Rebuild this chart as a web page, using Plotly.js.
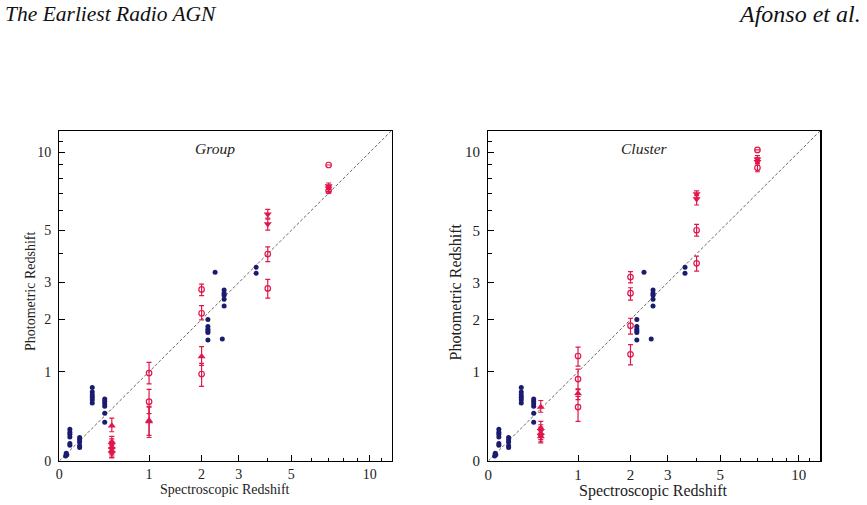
<!DOCTYPE html>
<html>
<head>
<meta charset="utf-8">
<script src="https://cdn.plot.ly/plotly-3.0.1.min.js"></script>
<style>html,body{margin:0;padding:0;background:#fff;}#chart{width:867px;height:505px;}</style>
</head>
<body>
<div id="chart"></div>
<script>
// ---- Data (redshift values) ----
var tickVals = [0, 1, 2, 3, 5, 10];
var tickText = ['0', '1', '2', '3', '5', '10'];
var minorVals = [4, 6, 7, 8, 9, 11];
var oneToOne = [0, 12];

// blue: spectroscopic sample (identical in both panels)
var blueSpec = [0.05, 0.055, 0.06,
  0.085, 0.085, 0.085, 0.085, 0.085, 0.085,
  0.17, 0.17, 0.17, 0.17, 0.17,
  0.29, 0.29, 0.29, 0.29, 0.29, 0.29,
  0.42, 0.42, 0.42, 0.42, 0.42, 0.42,
  2.15, 2.15, 2.15, 2.15, 2.15, 2.15,
  2.33, 2.52,
  2.57, 2.57, 2.57, 2.57, 2.57,
  3.57, 3.57];
var bluePhot = [0.04, 0.062, 0.05,
  0.28, 0.25, 0.23, 0.205, 0.145, 0.13,
  0.2, 0.18, 0.16, 0.125, 0.11,
  0.77, 0.71, 0.67, 0.64, 0.61, 0.57,
  0.62, 0.59, 0.56, 0.53, 0.45, 0.35,
  2.0, 1.84, 1.78, 1.745, 1.71, 1.56,
  3.33, 1.58,
  2.77, 2.68, 2.62, 2.51, 2.33,
  3.5, 3.3];

// Group panel (red)
var gCircSpec = [1, 1, 2, 2, 2, 4, 4, 7, 7];
var gCircPhot = [0.98, 0.585, 2.15, 2.79, 0.965, 3.99, 2.82, 7.15, 8.96];
var gCircUp   = [0.17, 0.16, 0.19, 0.16, 0.17, 0.28, 0.28, 0.15, 0];
var gCircDn   = [0.16, 0.14, 0.16, 0.18, 0.18, 0.29, 0.28, 0.15, 0];

var gUpSpec = [0.5, 0.5, 0.5, 0.5, 1, 1, 2];
var gUpPhot = [0.315, 0.16, 0.115, 0.08, 0.36, 0.37, 1.25];
var gUpUp   = [0.08, 0.05, 0.05, 0.05, 0.17, 0.15, 0.18];
var gUpDn   = [0.06, 0.05, 0.05, 0.05, 0.16, 0.15, 0.15];

var gDnSpec = [0.5, 0.5, 0.5, 4, 4, 7, 7];
var gDnPhot = [0.137, 0.098, 0.064, 5.79, 5.30, 7.46, 7.31];
var gDnUp   = [0.05, 0.05, 0.04, 0.27, 0.24, 0.2, 0.2];
var gDnDn   = [0.05, 0.05, 0.04, 0.2, 0.29, 0.2, 0.2];

// Cluster panel (red)
var cCircSpec = [1, 1, 1, 2, 2, 2, 2, 4, 4, 7, 7];
var cCircPhot = [1.26, 0.89, 0.52, 3.17, 2.68, 1.86, 1.29, 5.0, 3.64, 10.2, 8.75];
var cCircUp   = [0.16, 0.15, 0.13, 0.18, 0.16, 0.17, 0.18, 0.28, 0.27, 0, 0.3];
var cCircDn   = [0.17, 0.15, 0.16, 0.18, 0.19, 0.18, 0.18, 0.27, 0.27, 0, 0.3];

var cUpSpec = [0.5, 0.5, 0.5, 0.5, 1];
var cUpPhot = [0.52, 0.29, 0.24, 0.21, 0.69];
var cUpUp   = [0.08, 0.07, 0.06, 0.06, 0.06];
var cUpDn   = [0.06, 0.06, 0.06, 0.06, 0.08];

var cDnSpec = [0.5, 0.5, 4, 4, 7, 7];
var cDnPhot = [0.265, 0.22, 6.95, 6.65, 9.41, 9.22];
var cDnUp   = [0.06, 0.06, 0.2, 0.2, 0.3, 0.3];
var cDnDn   = [0.06, 0.06, 0.25, 0.35, 0.3, 0.3];

// ---- Styling ----
var NAVY = '#1b1b6f';
var RED = '#e0174b';
function p1(a) { return a.map(function (v) { return v + 1; }); } // axis is log(1+z)

function blueTrace(xa, ya) {
  return {x: p1(blueSpec), y: p1(bluePhot), xaxis: xa, yaxis: ya, type: 'scatter', mode: 'markers',
    marker: {color: NAVY, size: 5, line: {width: 0}}, showlegend: false, hoverinfo: 'skip'};
}
function redTrace(xs, ys, up, dn, sym, xa, ya) {
  var open = sym === 'circle-open';
  return {x: p1(xs), y: p1(ys), xaxis: xa, yaxis: ya, type: 'scatter', mode: 'markers',
    marker: {symbol: sym, color: RED, size: open ? 5.5 : 7, line: {color: RED, width: open ? 1.2 : 0}},
    error_y: {type: 'data', symmetric: false, array: up, arrayminus: dn, color: RED, thickness: 1.2, width: 2.5},
    showlegend: false, hoverinfo: 'skip'};
}
function diag(xa, ya) {
  return {x: p1(oneToOne), y: p1(oneToOne), xaxis: xa, yaxis: ya, type: 'scatter', mode: 'lines',
    line: {color: '#666', width: 1, dash: '3px,2px'}, showlegend: false, hoverinfo: 'skip'};
}

var data = [
  diag('x', 'y'), blueTrace('x', 'y'),
  redTrace(gCircSpec, gCircPhot, gCircUp, gCircDn, 'circle-open', 'x', 'y'),
  redTrace(gUpSpec, gUpPhot, gUpUp, gUpDn, 'triangle-up', 'x', 'y'),
  redTrace(gDnSpec, gDnPhot, gDnUp, gDnDn, 'triangle-down', 'x', 'y'),
  diag('x2', 'y2'), blueTrace('x2', 'y2'),
  redTrace(cCircSpec, cCircPhot, cCircUp, cCircDn, 'circle-open', 'x2', 'y2'),
  redTrace(cUpSpec, cUpPhot, cUpUp, cUpDn, 'triangle-up', 'x2', 'y2'),
  redTrace(cDnSpec, cDnPhot, cDnUp, cDnDn, 'triangle-down', 'x2', 'y2')
];

var R = [0, Math.log10(13)];
function ax(domain, anchor, fs, standoff) {
  return {type: 'log', range: R, domain: domain, anchor: anchor,
    tickmode: 'array', tickvals: p1(tickVals), ticktext: tickText,
    ticks: 'inside', ticklen: 6, tickwidth: 1, tickcolor: '#000',
    minor: {tickmode: 'array', tickvals: p1(minorVals), ticks: 'inside', ticklen: 3.5, tickwidth: 1, tickcolor: '#000', showgrid: false},
    showline: true, linecolor: '#000', linewidth: 1.2, mirror: true,
    showgrid: false, zeroline: false, ticklabelstandoff: standoff,
    tickfont: {family: 'Liberation Serif, serif', size: fs, color: '#222'}, fixedrange: true};
}
var yd = [44 / 505, 374.3 / 505];
var layout = {
  width: 867, height: 505, margin: {l: 0, r: 0, t: 0, b: 0},
  paper_bgcolor: '#fff', plot_bgcolor: '#fff',
  xaxis: ax([59.3 / 867, 391.5 / 867], 'y', 14, 0),
  yaxis: ax(yd, 'x', 14, 4),
  xaxis2: ax([488.3 / 867, 820.3 / 867], 'y2', 15, 0),
  yaxis2: ax(yd, 'x2', 15, 4),
  annotations: [
    {text: 'The Earliest Radio AGN', xref: 'paper', yref: 'paper', x: 3 / 867, y: 1 - 14 / 505, xanchor: 'left', yanchor: 'middle', showarrow: false,
      font: {family: 'Liberation Serif, serif', size: 21.5, color: '#111', style: 'italic'}},
    {text: 'Afonso et al.', xref: 'paper', yref: 'paper', x: 863 / 867, y: 1 - 14 / 505, xanchor: 'right', yanchor: 'middle', showarrow: false,
      font: {family: 'Liberation Serif, serif', size: 24, color: '#111', style: 'italic'}},
    {text: 'Group', xref: 'paper', yref: 'paper', x: 215 / 867, y: 1 - 148 / 505, xanchor: 'center', yanchor: 'middle', showarrow: false,
      font: {family: 'Liberation Serif, serif', size: 15.5, color: '#222', style: 'italic'}},
    {text: 'Cluster', xref: 'paper', yref: 'paper', x: 644 / 867, y: 1 - 148 / 505, xanchor: 'center', yanchor: 'middle', showarrow: false,
      font: {family: 'Liberation Serif, serif', size: 15.5, color: '#222', style: 'italic'}},
    {text: 'Spectroscopic Redshift', xref: 'paper', yref: 'paper', x: 225 / 867, y: 1 - 489 / 505, xanchor: 'center', yanchor: 'middle', showarrow: false,
      font: {family: 'Liberation Serif, serif', size: 14, color: '#222'}},
    {text: 'Spectroscopic Redshift', xref: 'paper', yref: 'paper', x: 653 / 867, y: 1 - 491 / 505, xanchor: 'center', yanchor: 'middle', showarrow: false,
      font: {family: 'Liberation Serif, serif', size: 16, color: '#222'}},
    {text: 'Photometric Redshift', xref: 'paper', yref: 'paper', x: 30 / 867, y: 1 - 292 / 505, xanchor: 'center', yanchor: 'middle', showarrow: false, textangle: -90,
      font: {family: 'Liberation Serif, serif', size: 14, color: '#222'}},
    {text: 'Photometric Redshift', xref: 'paper', yref: 'paper', x: 455 / 867, y: 1 - 292.5 / 505, xanchor: 'center', yanchor: 'middle', showarrow: false, textangle: -90,
      font: {family: 'Liberation Serif, serif', size: 16, color: '#222'}}
  ]
};
Plotly.newPlot('chart', data, layout, {staticPlot: true, displayModeBar: false});
</script>
</body>
</html>
